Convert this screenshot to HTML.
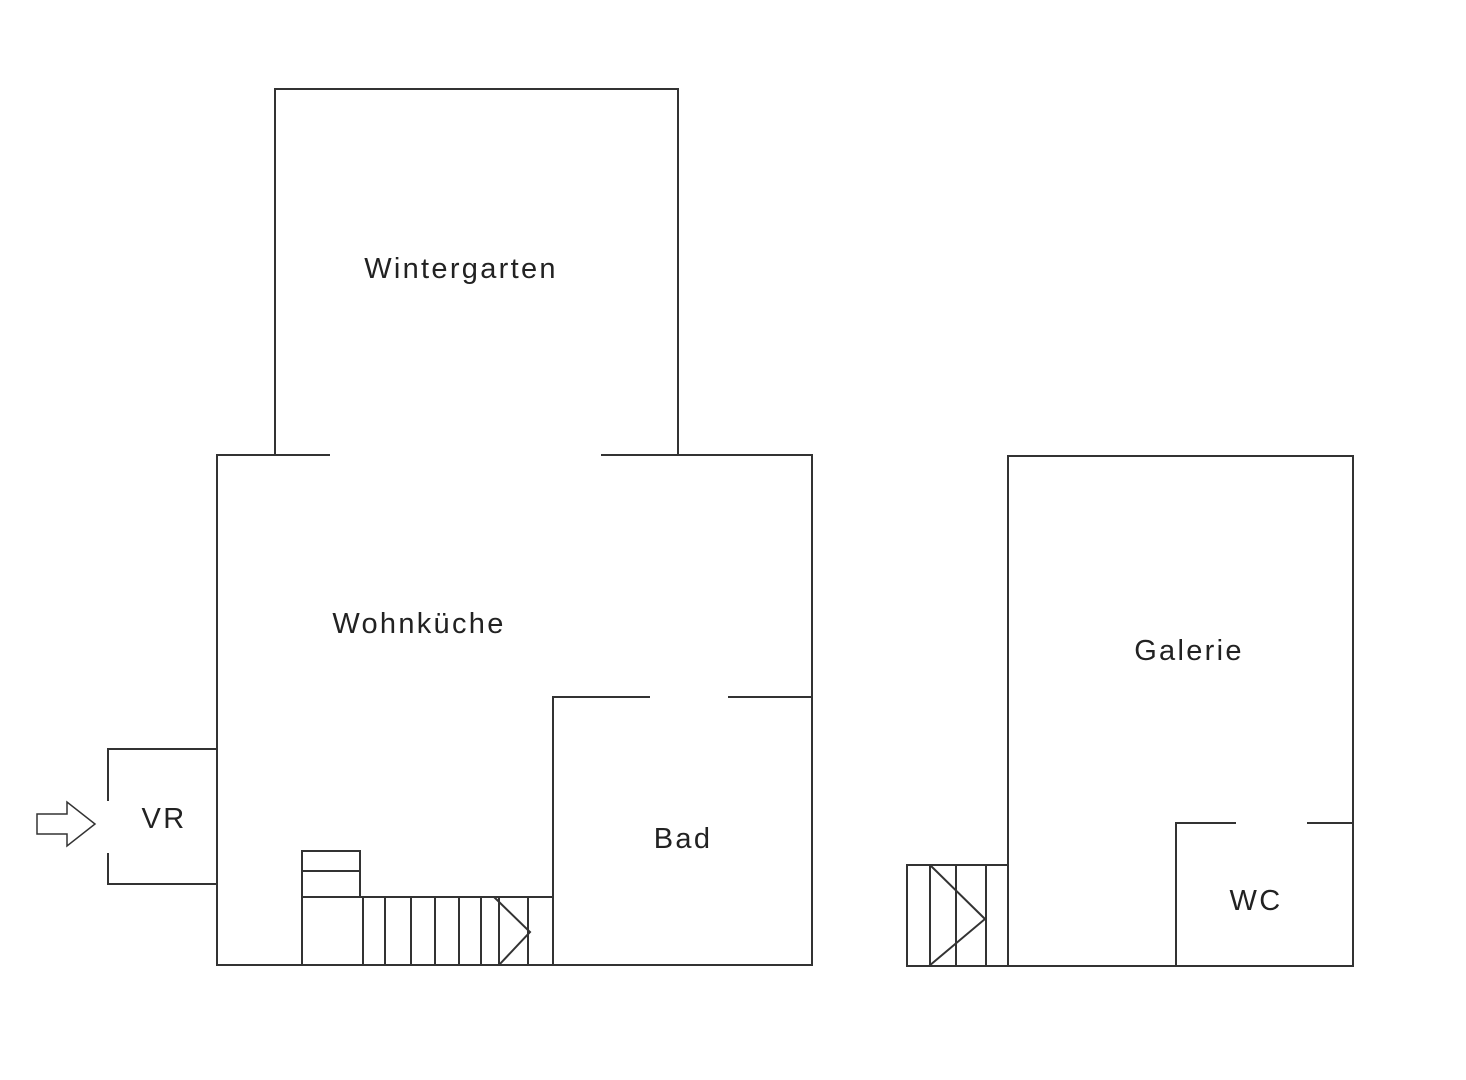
<!DOCTYPE html>
<html><head><meta charset="utf-8"><style>
html,body{margin:0;padding:0;background:#fff;}
svg{display:block}
text{font-family:"Liberation Sans",sans-serif;font-size:29px;letter-spacing:2.3px;fill:#222;text-anchor:middle;dominant-baseline:central}
</style></head><body>
<svg width="1466" height="1080" viewBox="0 0 1466 1080">
<g stroke="#333" stroke-width="2" fill="none">
<polyline points="275,455 275,89 678,89 678,455"/>
<polyline points="330,455 217,455 217,965 812,965 812,455 601,455"/>
<polyline points="553,965 553,697 650,697"/>
<line x1="728" y1="697" x2="812" y2="697"/>
<polyline points="108,801 108,749 217,749"/>
<polyline points="108,853 108,884 217,884"/>
<polygon points="37,814 67,814 67,802 95,824 67,846 67,834 37,834" stroke-width="1.5"/>
<rect x="302" y="851" width="58" height="46"/>
<line x1="302" y1="871" x2="360" y2="871"/>
<rect x="302" y="897" width="251" height="68"/>
<line x1="363" y1="897" x2="363" y2="965"/>
<line x1="385" y1="897" x2="385" y2="965"/>
<line x1="411" y1="897" x2="411" y2="965"/>
<line x1="435" y1="897" x2="435" y2="965"/>
<line x1="459" y1="897" x2="459" y2="965"/>
<line x1="481" y1="897" x2="481" y2="965"/>
<line x1="499" y1="897" x2="499" y2="965"/>
<line x1="528" y1="897" x2="528" y2="965"/>
<polyline points="494,897 530,932 499,965"/>
<rect x="1008" y="456" width="345" height="510"/>
<polyline points="1176,966 1176,823 1236,823"/>
<line x1="1307" y1="823" x2="1353" y2="823"/>
<rect x="907" y="865" width="101" height="101"/>
<line x1="930" y1="865" x2="930" y2="966"/>
<line x1="956" y1="865" x2="956" y2="966"/>
<line x1="986" y1="865" x2="986" y2="966"/>
<polyline points="930,865 985,919 929,966"/>
</g>
<text x="461" y="269">Wintergarten</text>
<text x="419" y="624">Wohnküche</text>
<text x="683" y="839">Bad</text>
<text x="164" y="819">VR</text>
<text x="1189" y="651">Galerie</text>
<text x="1256" y="901">WC</text>
</svg>
</body></html>
